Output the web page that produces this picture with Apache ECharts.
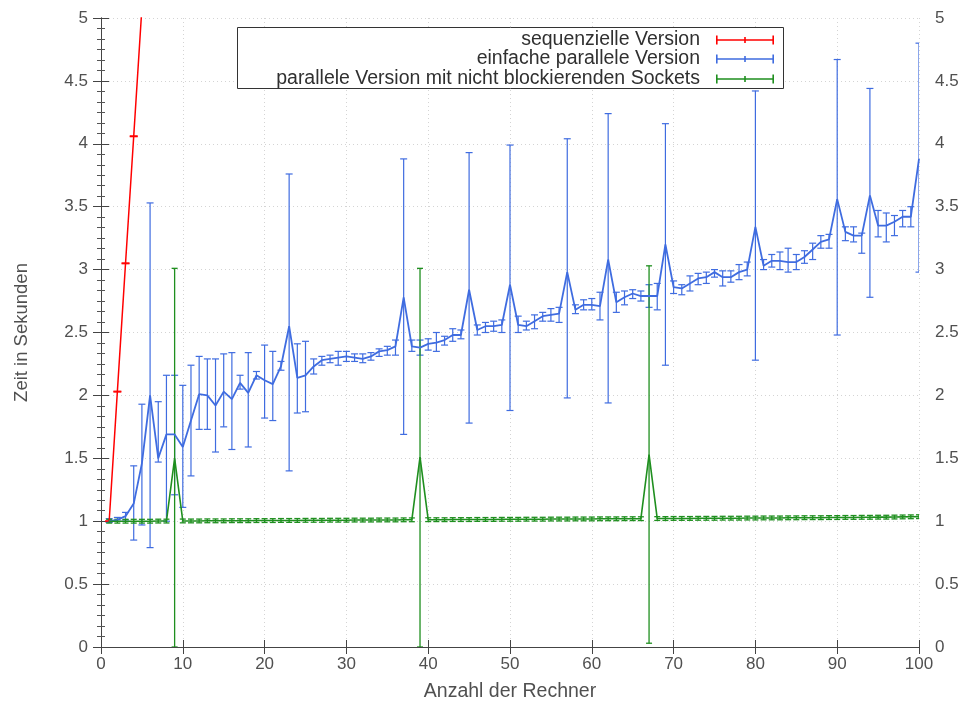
<!DOCTYPE html>
<html>
<head>
<meta charset="utf-8">
<title>Laufzeitvergleich</title>
<script src="https://cdn.jsdelivr.net/npm/echarts@6/dist/echarts.min.js"></script>
<style>
  html, body { margin: 0; padding: 0; background: #ffffff; }
  #chart { width: 966px; height: 704px; }
</style>
</head>
<body>
<div id="chart"></div>
<script>
// Zeitmessungen (Sekunden): Mittelwert sowie Minimum/Maximum je Anzahl Rechner

const seqName = 'sequenzielle Version';
const simpleName = 'einfache parallele Version';
const nbName = 'parallele Version mit nicht blockierenden Sockets';

// sequenzielle Version
const seqCount = [1, 2, 3, 4, 5];
const seqMean = [1.000, 2.030, 3.050, 4.060, 5.080];
const seqLow  = [0.997, 2.027, 3.047, 4.057, 5.077];
const seqHigh = [1.003, 2.033, 3.053, 4.063, 5.083];

// Anzahl der Rechner 1..100
const count = Array.from({ length: 100 }, (_, i) => i + 1);

// einfache parallele Version
const simpleMean = [
  1.00, 1.01, 1.04, 1.14, 1.46, 2.00, 1.50, 1.69, 1.69, 1.59,
  1.80, 2.01, 2.00, 1.92, 2.03, 1.97, 2.10, 2.02, 2.16, 2.12,
  2.09, 2.23, 2.55, 2.14, 2.16, 2.23, 2.28, 2.29, 2.30, 2.31,
  2.30, 2.29, 2.31, 2.35, 2.36, 2.39, 2.78, 2.39, 2.38, 2.41,
  2.42, 2.44, 2.48, 2.48, 2.84, 2.52, 2.55, 2.55, 2.56, 2.88,
  2.56, 2.55, 2.59, 2.63, 2.64, 2.65, 2.98, 2.68, 2.72, 2.72,
  2.71, 3.08, 2.74, 2.78, 2.81, 2.79, 2.79, 2.79, 3.20, 2.86,
  2.85, 2.89, 2.93, 2.94, 2.98, 2.94, 2.94, 2.98, 3.00, 3.34,
  3.03, 3.07, 3.07, 3.06, 3.06, 3.10, 3.16, 3.22, 3.24, 3.56,
  3.30, 3.27, 3.27, 3.59, 3.35, 3.35, 3.38, 3.42, 3.42, 3.88
];
const simpleLow = [
  0.99, 1.00, 1.01, 0.85, 0.97, 0.79, 1.47, 1.00, 1.21, 1.11,
  1.36, 1.73, 1.73, 1.55, 1.75, 1.57, 2.05, 1.59, 2.13, 1.82,
  1.80, 2.20, 1.40, 1.86, 1.87, 2.17, 2.24, 2.26, 2.24, 2.27,
  2.27, 2.26, 2.28, 2.31, 2.32, 2.32, 1.69, 2.35, 2.32, 2.36,
  2.35, 2.40, 2.43, 2.45, 1.78, 2.48, 2.50, 2.51, 2.50, 1.88,
  2.50, 2.52, 2.53, 2.59, 2.59, 2.58, 1.98, 2.65, 2.68, 2.68,
  2.60, 1.94, 2.66, 2.72, 2.77, 2.75, 2.70, 2.68, 2.24, 2.81,
  2.80, 2.83, 2.88, 2.89, 2.94, 2.87, 2.90, 2.92, 2.95, 2.28,
  3.00, 3.02, 3.00, 2.98, 3.00, 3.05, 3.08, 3.17, 3.17, 2.48,
  3.23, 3.22, 3.13, 2.78, 3.26, 3.22, 3.27, 3.34, 3.34, 2.98
];
const simpleHigh = [
  1.02, 1.03, 1.07, 1.44, 1.93, 3.53, 1.95, 2.16, 2.16, 2.08,
  2.24, 2.31, 2.29, 2.29, 2.33, 2.34, 2.16, 2.34, 2.19, 2.40,
  2.35, 2.27, 3.76, 2.41, 2.43, 2.29, 2.31, 2.32, 2.35, 2.35,
  2.33, 2.33, 2.34, 2.37, 2.39, 2.44, 3.88, 2.44, 2.44, 2.45,
  2.50, 2.47, 2.53, 2.52, 3.93, 2.56, 2.58, 2.59, 2.60, 3.99,
  2.63, 2.59, 2.64, 2.66, 2.69, 2.70, 4.04, 2.72, 2.76, 2.77,
  2.82, 4.24, 2.82, 2.83, 2.84, 2.83, 2.88, 2.89, 4.16, 2.91,
  2.88, 2.95, 2.97, 2.98, 3.00, 2.99, 2.99, 3.04, 3.06, 4.42,
  3.08, 3.12, 3.14, 3.17, 3.12, 3.15, 3.21, 3.27, 3.28, 4.67,
  3.34, 3.34, 3.29, 4.44, 3.47, 3.45, 3.43, 3.47, 3.50, 4.80
];

// parallele Version mit nicht blockierenden Sockets
const nbMean = [
  1.000, 1.000, 1.000, 1.000, 1.000, 1.000, 1.001, 1.001, 1.500, 1.002,
  1.002, 1.002, 1.003, 1.003, 1.003, 1.004, 1.004, 1.004, 1.005, 1.005,
  1.005, 1.006, 1.006, 1.006, 1.007, 1.007, 1.007, 1.008, 1.008, 1.008,
  1.009, 1.009, 1.009, 1.010, 1.010, 1.010, 1.011, 1.011, 1.510, 1.012,
  1.012, 1.012, 1.013, 1.013, 1.013, 1.014, 1.014, 1.014, 1.015, 1.015,
  1.015, 1.016, 1.016, 1.016, 1.017, 1.017, 1.017, 1.018, 1.018, 1.018,
  1.019, 1.019, 1.019, 1.020, 1.020, 1.020, 1.530, 1.021, 1.021, 1.022,
  1.022, 1.022, 1.023, 1.023, 1.023, 1.024, 1.024, 1.024, 1.025, 1.025,
  1.026, 1.026, 1.026, 1.027, 1.027, 1.028, 1.028, 1.028, 1.029, 1.029,
  1.030, 1.030, 1.031, 1.031, 1.032, 1.032, 1.033, 1.034, 1.035, 1.036
];
const nbLow = [
  0.985, 0.985, 0.985, 0.985, 0.985, 0.985, 0.986, 0.986, 0.000, 0.987,
  0.987, 0.987, 0.988, 0.988, 0.988, 0.989, 0.989, 0.989, 0.990, 0.990,
  0.990, 0.991, 0.991, 0.991, 0.992, 0.992, 0.992, 0.993, 0.993, 0.993,
  0.994, 0.994, 0.994, 0.995, 0.995, 0.995, 0.996, 0.996, 0.000, 0.997,
  0.997, 0.997, 0.998, 0.998, 0.998, 0.999, 0.999, 0.999, 1.000, 1.000,
  1.000, 1.001, 1.001, 1.001, 1.002, 1.002, 1.002, 1.003, 1.003, 1.003,
  1.004, 1.004, 1.004, 1.005, 1.005, 1.005, 0.030, 1.006, 1.006, 1.007,
  1.007, 1.007, 1.008, 1.008, 1.008, 1.009, 1.009, 1.009, 1.010, 1.010,
  1.011, 1.011, 1.011, 1.012, 1.012, 1.013, 1.013, 1.013, 1.014, 1.014,
  1.015, 1.015, 1.016, 1.016, 1.017, 1.017, 1.018, 1.019, 1.020, 1.021
];
const nbHigh = [
  1.015, 1.015, 1.015, 1.015, 1.015, 1.015, 1.016, 1.016, 3.010, 1.017,
  1.017, 1.017, 1.018, 1.018, 1.018, 1.019, 1.019, 1.019, 1.020, 1.020,
  1.020, 1.021, 1.021, 1.021, 1.022, 1.022, 1.022, 1.023, 1.023, 1.023,
  1.024, 1.024, 1.024, 1.025, 1.025, 1.025, 1.026, 1.026, 3.010, 1.027,
  1.027, 1.027, 1.028, 1.028, 1.028, 1.029, 1.029, 1.029, 1.030, 1.030,
  1.030, 1.031, 1.031, 1.031, 1.032, 1.032, 1.032, 1.033, 1.033, 1.033,
  1.034, 1.034, 1.034, 1.035, 1.035, 1.035, 3.030, 1.036, 1.036, 1.037,
  1.037, 1.037, 1.038, 1.038, 1.038, 1.039, 1.039, 1.039, 1.040, 1.040,
  1.041, 1.041, 1.041, 1.042, 1.042, 1.043, 1.043, 1.043, 1.044, 1.044,
  1.045, 1.045, 1.046, 1.046, 1.047, 1.047, 1.048, 1.049, 1.050, 1.051
];

// Achsen
const xMin = 0, xMax = 100, xStep = 10;
const yMin = 0, yMax = 5, yStep = 0.5;

const RED = '#ff0000';
const BLUE = '#3f6ce0';
const GREEN = '#1f8f1f';
const TEXT = '#505050';
const FONT = '"Liberation Sans", Arial, Helvetica, sans-serif';

function zip(xs, a, b) { return xs.map((x, i) => b ? [x, a[i], b[i]] : [x, a[i]]); }

// vertikaler Fehlerbalken mit Querstrichen an beiden Enden
function errorBars(color, capHalf, width) {
  return function (params, api) {
    const x = api.value(0);
    const lo = api.coord([x, api.value(1)]);
    const hi = api.coord([x, api.value(2)]);
    const st = { stroke: color, lineWidth: width };
    return {
      type: 'group',
      children: [
        { type: 'line', shape: { x1: lo[0], y1: lo[1], x2: hi[0], y2: hi[1] }, style: st },
        { type: 'line', shape: { x1: lo[0] - capHalf, y1: lo[1], x2: lo[0] + capHalf, y2: lo[1] }, style: st },
        { type: 'line', shape: { x1: hi[0] - capHalf, y1: hi[1], x2: hi[0] + capHalf, y2: hi[1] }, style: st }
      ]
    };
  };
}

function meanLine(name, xs, ys, color, width) {
  return {
    name: name, type: 'line', data: zip(xs, ys), symbol: 'none',
    lineStyle: { color: color, width: width }, itemStyle: { color: color },
    clip: true, animation: false, silent: true
  };
}
function errSeries(name, xs, lo, hi, color, width, capHalf) {
  return {
    name: name, type: 'custom', data: zip(xs, lo, hi),
    encode: { x: 0, y: [1, 2] }, renderItem: errorBars(color, capHalf, width),
    itemStyle: { color: color }, clip: true, animation: false, silent: true
  };
}

const legendIcon = 'path://M0,0h1.6v9h-1.6z M28.2,1.5h1.6v6h-1.6z M56.4,0h1.6v9h-1.6z M0,3.7h58v1.6h-58z';
function legendRow(name, color, top) {
  return {
    top: top, right: 187, orient: 'horizontal', align: 'right', z: 10,
    selectedMode: false, icon: legendIcon, itemWidth: 58, itemHeight: 9,
    symbolKeepAspect: false,
    textStyle: { color: '#303030', fontSize: 19.5, fontFamily: FONT, padding: [0, 11, 0, 0] },
    data: [{ name: name, itemStyle: { color: color } }]
  };
}

const axisLineStyle = { color: '#444', width: 1 };

const chart = echarts.init(document.getElementById('chart'), null, { renderer: 'canvas' });
chart.setOption({
  backgroundColor: '#ffffff',
  animation: false,
  textStyle: { fontFamily: FONT },
  grid: { left: 101, right: 47, top: 18, bottom: 57, outerBoundsMode: 'none' },
  graphic: [{
    type: 'rect', z: 5,
    shape: { x: 237.5, y: 27.5, width: 546, height: 61 },
    style: { fill: '#ffffff', stroke: '#333', lineWidth: 1 }
  }],
  legend: [
    legendRow(seqName, RED, 25),
    legendRow(simpleName, BLUE, 44),
    legendRow(nbName, GREEN, 64)
  ],
  xAxis: [{
    type: 'value', min: xMin, max: xMax, interval: xStep, position: 'bottom',
    name: 'Anzahl der Rechner', nameLocation: 'middle', nameGap: 35,
    nameTextStyle: { color: TEXT, fontSize: 19.5, fontFamily: FONT },
    axisLine: { show: true, lineStyle: axisLineStyle },
    axisTick: { show: true, inside: true, length: 7, lineStyle: axisLineStyle },
    axisLabel: { color: TEXT, fontSize: 17, fontFamily: FONT, margin: 9 },
    splitLine: { show: true, lineStyle: { color: '#d4d4d4', type: [1, 3], width: 1 } }
  }, {
    type: 'value', min: xMin, max: xMax, interval: xStep, position: 'top',
    axisLine: { show: true, lineStyle: axisLineStyle },
    axisTick: { show: true, inside: true, length: 7, lineStyle: axisLineStyle },
    axisLabel: { show: false }, splitLine: { show: false }
  }],
  yAxis: [{
    type: 'value', min: yMin, max: yMax, interval: yStep, position: 'left',
    name: 'Zeit in Sekunden', nameLocation: 'middle', nameGap: 70,
    nameTextStyle: { color: TEXT, fontSize: 18.5, fontFamily: FONT },
    axisLine: { show: true, lineStyle: axisLineStyle },
    axisTick: { show: true, inside: true, length: 8, lineStyle: axisLineStyle },
    minorTick: { show: true, splitNumber: 6, length: 4, lineStyle: { color: '#555' } },
    axisLabel: { color: TEXT, fontSize: 17, fontFamily: FONT, margin: 13 },
    splitLine: { show: true, lineStyle: { color: '#d4d4d4', type: [1, 3], width: 1 } }
  }, {
    type: 'value', min: yMin, max: yMax, interval: yStep, position: 'right',
    axisLine: { show: true, lineStyle: axisLineStyle },
    axisTick: { show: true, inside: true, length: 8, lineStyle: axisLineStyle },
    minorTick: { show: true, splitNumber: 6, length: 4, lineStyle: { color: '#555' } },
    axisLabel: { color: TEXT, fontSize: 17, fontFamily: FONT, margin: 16 },
    splitLine: { show: false }
  }],
  series: [
    meanLine(seqName, seqCount, seqMean, RED, 1.5),
    errSeries(seqName, seqCount, seqLow, seqHigh, RED, 1.3, 4),
    meanLine(simpleName, count, simpleMean, BLUE, 1.8),
    errSeries(simpleName, count, simpleLow, simpleHigh, BLUE, 1.2, 3.5),
    meanLine(nbName, count, nbMean, GREEN, 1.6),
    errSeries(nbName, count, nbLow, nbHigh, GREEN, 1.3, 3)
  ]
});
</script>
</body>
</html>
